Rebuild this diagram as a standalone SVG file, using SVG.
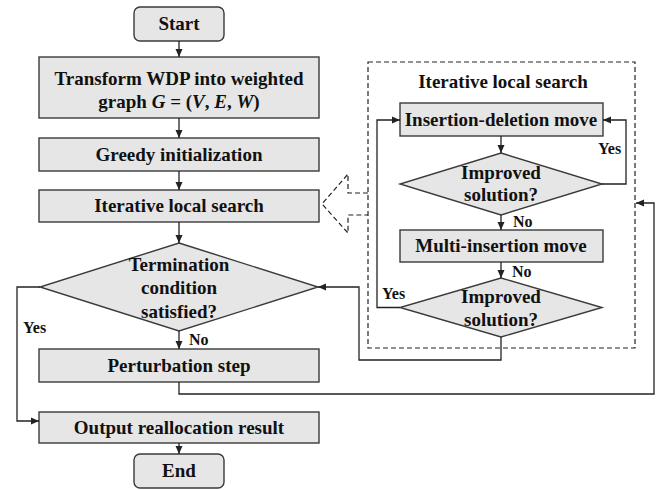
<svg xmlns="http://www.w3.org/2000/svg" width="664" height="490" viewBox="0 0 664 490">
<style>
.n{fill:#e6e6e6;stroke:#3a3a3a;stroke-width:1.4}
.t{font-family:'Liberation Serif','Times New Roman','DejaVu Serif',serif;font-weight:700;font-size:19px;fill:#111;text-anchor:middle}
.l{font-family:'Liberation Serif','Times New Roman','DejaVu Serif',serif;font-weight:700;font-size:16px;fill:#111}
.c{fill:none;stroke:#222;stroke-width:1.3}
.d{fill:none;stroke:#222;stroke-width:1.2;stroke-dasharray:5,3}
</style>
<defs>
<marker id="a" viewBox="0 0 8 8" refX="8" refY="4" markerWidth="8" markerHeight="8" markerUnits="userSpaceOnUse" orient="auto">
<path d="M0,0.5 L8,4 L0,7.5 z" fill="#222"/>
</marker>
</defs>
<rect width="664" height="490" fill="#fff"/>
<g id="ilsbox">
<rect x="368" y="62" width="267" height="286" class="d"/>
<text x="503" y="88" class="t" font-family="Liberation Serif, serif">Iterative local search</text>
<path d="M368,193 H348 V174 L322,204 L348,233 V215 H368" class="d"/>
</g>
<g id="start"><rect x="134" y="7" width="90" height="34" rx="6" class="n"/><text x="179" y="30" class="t">Start</text></g>
<g id="transform"><rect x="39" y="57" width="280" height="61" class="n"/>
<text x="179" y="85" class="t">Transform WDP into weighted</text>
<text x="179" y="108" class="t">graph <tspan font-style="italic">G</tspan> = (<tspan font-style="italic">V</tspan>, <tspan font-style="italic">E</tspan>, <tspan font-style="italic">W</tspan>)</text></g>
<g id="greedy"><rect x="39" y="138" width="280" height="33" class="n"/><text x="179" y="161" class="t">Greedy initialization</text></g>
<g id="ils"><rect x="39" y="190" width="280" height="32" class="n"/><text x="179" y="212" class="t">Iterative local search</text></g>
<g id="term"><path d="M179,243 L318,287 L179,331 L40,287 Z" class="n"/>
<text x="179" y="271" class="t">Termination</text>
<text x="179" y="294" class="t">condition</text>
<text x="179" y="318" class="t">satisfied?</text></g>
<g id="perturb"><rect x="39" y="349" width="280" height="33" class="n"/><text x="179" y="372" class="t">Perturbation step</text></g>
<g id="output"><rect x="39" y="412" width="280" height="31" class="n"/><text x="179" y="434" class="t">Output reallocation result</text></g>
<g id="end"><rect x="134" y="454" width="90" height="34" rx="6" class="n"/><text x="179" y="477" class="t">End</text></g>
<g id="insdel"><rect x="400" y="103" width="203" height="33" class="n"/><text x="501" y="126" class="t">Insertion-deletion move</text></g>
<g id="imp1"><path d="M501,153 L602,184 L501,215 L400,184 Z" class="n"/>
<text x="501" y="179" class="t">Improved</text><text x="501" y="201" class="t">solution?</text></g>
<g id="multi"><rect x="400" y="230" width="203" height="32" class="n"/><text x="501" y="252" class="t">Multi-insertion move</text></g>
<g id="imp2"><path d="M501,278 L602,307.5 L501,337 L400,307.5 Z" class="n"/>
<text x="501" y="303" class="t">Improved</text><text x="501" y="326" class="t">solution?</text></g>
<g id="connectors">
<path d="M179,41 V57" class="c" marker-end="url(#a)"/>
<path d="M179,118 V138" class="c" marker-end="url(#a)"/>
<path d="M179,171 V190" class="c" marker-end="url(#a)"/>
<path d="M179,222 V243" class="c" marker-end="url(#a)"/>
<path d="M179,331 V349" class="c" marker-end="url(#a)"/>
<path d="M40,287 H17 V421 H39" class="c" marker-end="url(#a)"/>
<path d="M179,382 V394 H654 V203 H636" class="c" marker-end="url(#a)"/>
<path d="M179,443 V454" class="c" marker-end="url(#a)"/>
<path d="M501,136 V153" class="c" marker-end="url(#a)"/>
<path d="M501,215 V230" class="c" marker-end="url(#a)"/>
<path d="M501,262 V278" class="c" marker-end="url(#a)"/>
<path d="M602,184 H626 V120 H603" class="c" marker-end="url(#a)"/>
<path d="M400,307.5 H377 V120 H400" class="c" marker-end="url(#a)"/>
<path d="M501,337 V360 H359 V287 H318" class="c" marker-end="url(#a)"/>
<text x="23" y="333" class="l">Yes</text>
<text x="189" y="345" class="l">No</text>
<text x="598" y="154" class="l">Yes</text>
<text x="513" y="227" class="l">No</text>
<text x="512" y="277" class="l">No</text>
<text x="382" y="299" class="l">Yes</text>
</g>
</svg>
